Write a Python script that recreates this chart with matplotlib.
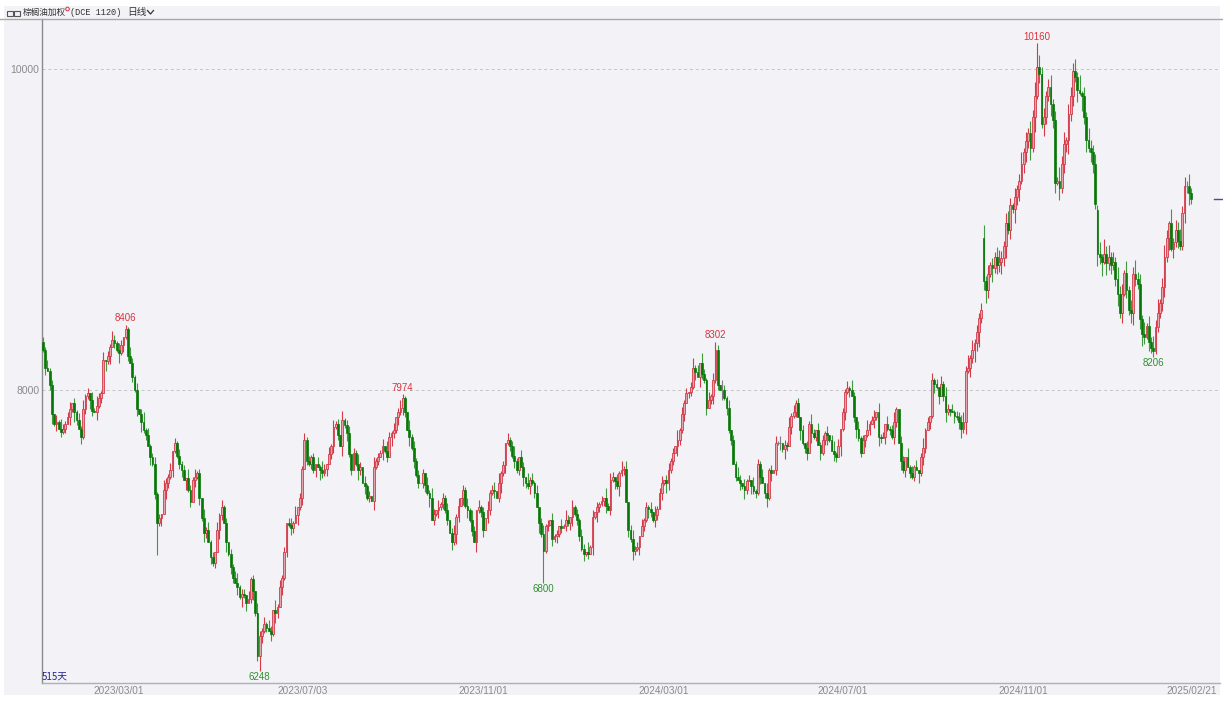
import matplotlib
matplotlib.use("Agg")
import matplotlib.pyplot as plt
import matplotlib.transforms as mtransforms
from matplotlib.patches import Rectangle, Ellipse
from matplotlib.lines import Line2D
import numpy as np

plt.rcParams["font.family"] = ["Liberation Sans", "Noto Sans CJK SC", "DejaVu Sans"]

# daily closes, 2023/01/03 .. 2025/02/21 (515 trading days)
closes = [
    8250, 8140, 8120, 8030, 7850, 7790, 7800, 7760, 7740, 7760,
    7790, 7830, 7880, 7920, 7860, 7810, 7760, 7710, 7880, 7960,
    7980, 7940, 7870, 7860, 7900, 7950, 7980, 8190, 8180, 8210,
    8270, 8310, 8290, 8250, 8230, 8280, 8330, 8380, 8210, 8170,
    8080, 8000, 7880, 7850, 7800, 7750, 7720, 7650, 7580, 7540,
    7350, 7170, 7200, 7230, 7380, 7420, 7460, 7500, 7620, 7670,
    7590, 7540, 7500, 7440, 7450, 7380, 7300, 7440, 7460, 7480,
    7330, 7200, 7110, 7130, 7050, 6960, 6920, 6990, 7130, 7220,
    7270, 7170, 7050, 6980, 6900, 6830, 6800, 6770, 6710, 6730,
    6720, 6670, 6700, 6820, 6750, 6610, 6340, 6470, 6500, 6540,
    6520, 6500, 6480, 6630, 6610, 6650, 6770, 6830, 6990, 7170,
    7160, 7140, 7170, 7220, 7270, 7330, 7510, 7690, 7560, 7540,
    7580, 7500, 7540, 7520, 7500, 7480, 7510, 7540, 7600, 7650,
    7770, 7790, 7720, 7650, 7810, 7780, 7730, 7600, 7500, 7610,
    7540, 7500, 7520, 7420, 7400, 7330, 7340, 7310, 7520, 7560,
    7580, 7610, 7650, 7620, 7580, 7710, 7730, 7750, 7830, 7860,
    7890, 7950, 7860, 7750, 7710, 7640, 7560, 7470, 7420, 7420,
    7480, 7410, 7360, 7330, 7190, 7230, 7250, 7270, 7290, 7330,
    7250, 7190, 7110, 7050, 7100, 7210, 7280, 7330, 7380, 7280,
    7250, 7190, 7120, 7050, 7250, 7270, 7240, 7130, 7200, 7250,
    7360, 7380, 7370, 7330, 7420, 7480, 7530, 7670, 7690, 7650,
    7590, 7560, 7500, 7580, 7520, 7460, 7420, 7400, 7440, 7420,
    7360, 7270, 7170, 7100, 7000, 7150, 7160, 7190, 7070, 7090,
    7100, 7150, 7140, 7150, 7190, 7170, 7210, 7270, 7230, 7190,
    7090, 7010, 6980, 6990, 6980, 7020, 7210, 7240, 7270, 7290,
    7310, 7330, 7280, 7250, 7440, 7460, 7430, 7400, 7480, 7500,
    7510, 7300, 7130, 7070, 7000, 7010, 7020, 7090, 7150, 7190,
    7270, 7260, 7240, 7190, 7220, 7260, 7360, 7420, 7440, 7420,
    7500, 7560, 7610, 7650, 7690, 7750, 7850, 7920, 7980, 7990,
    8020, 8140, 8110, 8080, 8170, 8100, 8060, 7890, 7940, 7960,
    8060, 8250, 8030, 8000, 8000, 7950, 7890, 7750, 7690, 7540,
    7460, 7440, 7420, 7400, 7380, 7430, 7440, 7400, 7370, 7360,
    7540, 7460, 7420, 7360, 7330, 7500, 7480, 7500, 7670, 7670,
    7670, 7630, 7660, 7650, 7770, 7840, 7860, 7920, 7830, 7750,
    7670, 7640, 7610, 7790, 7730, 7710, 7750, 7660, 7610, 7690,
    7730, 7720, 7690, 7620, 7600, 7580, 7650, 7760, 7860, 7990,
    8010, 8000, 7960, 7830, 7760, 7700, 7610, 7690, 7720, 7750,
    7790, 7810, 7830, 7860, 7710, 7700, 7710, 7790, 7760, 7750,
    7710, 7800, 7880, 7670, 7560, 7500, 7580, 7520, 7480, 7460,
    7520, 7500, 7480, 7580, 7640, 7750, 7800, 7840, 8060, 8040,
    8020, 7960, 8040, 7960, 7860, 7880, 7870, 7860, 7840, 7830,
    7800, 7760, 7800, 8120, 8140, 8200, 8250, 8290, 8360, 8450,
    8500, 8680, 8620, 8720, 8780, 8760, 8830, 8780, 8800, 8820,
    8900, 9040, 9000, 9150, 9130, 9200, 9250, 9300, 9410, 9480,
    9550, 9600, 9510, 9700, 9830, 10010, 9970, 9660, 9700, 9830,
    9890, 9780, 9680, 9290, 9300, 9260, 9410, 9530, 9560, 9720,
    9830, 9990, 9950, 9870, 9850, 9830, 9700, 9560, 9510, 9480,
    9410, 9160, 8850, 8830, 8800, 8850, 8790, 8830, 8780, 8800,
    8690, 8600, 8480, 8600, 8730, 8620, 8500, 8480, 8720, 8690,
    8660, 8440, 8350, 8330, 8400, 8300, 8260, 8240, 8390, 8480,
    8540, 8640, 8830, 8950, 9040, 8880, 8920, 9000, 8930, 8900,
    9100, 9270, 9270, 9230, 9190,
]
first_open = 8300
gap_opens = {421: 8950, 472: 9120}

# shadow lengths per candle, in steps of 15 points
upper_wicks = (
    "2131203142 1230213141 2031421302 1421320314 2130241312 "
    "3120421302 1312042131 2041312031 3120213412 2031204213 "
    "1320413120 2314021312 1203142031 3120412302 1420312041 "
    "2130421302 3110413120 2031420312 1302413021 3142031204 "
    "1230412031 2410320413 1302412031 2031420312 1320413021 "
    "2041320314 1302412031 2130412302 3120413120 2413042131 "
    "3120421302 1420312041 2130412031 3021413120 2031420312 "
    "1302413021 3142031204 1230412031 2410320413 1302412031 "
    "2031420312 2342514232 3524132453 2453142352 4253615342 "
    "3524263514 4352614253 3425163524 2534152436 3425142536 "
    "2453162435 34252"
).replace(" ", "")
lower_wicks = (
    "1302413021 2031420312 1420312041 3021413120 2130412031 "
    "2413042131 1230412031 3142031204 2041320314 1302412031 "
    "2031420312 1320413021 2130421302 3120413120 1420312041 "
    "2031204213 1320413120 2314021312 1203142031 3120412302 "
    "2130241312 1312042131 2041312031 3120213412 2131203142 "
    "1230213141 2031421302 1421320314 3120421302 2130421302 "
    "3120413120 2031420312 1302413021 3142031204 1230412031 "
    "2410320413 1302412031 2031420312 1320413021 2041320314 "
    "1302412031 3425142536 2453162435 3524263514 4352614253 "
    "2534152436 3425163524 4253615342 3524132453 2453142312 "
    "2342514232 24352"
).replace(" ", "")
wick_step = 15

marked_highs = {37: 8406, 161: 7974, 301: 8302, 445: 10160}
marked_lows = {97: 6248, 224: 6800, 497: 8206}
extra_lows = {51: 6970}

date_ticks = [34, 116, 197, 278, 358, 439, 514]
date_labels = ["2023/03/01", "2023/07/03", "2023/11/01", "2024/03/01",
               "2024/07/01", "2024/11/01", "2025/02/21"]

# ---- build OHLC ----
c = np.array(closes, dtype=float)
n = len(c)
o = np.r_[first_open, c[:-1]]
for k, v in gap_opens.items():
    o[k] = v
up = np.array([int(ch) for ch in upper_wicks]) * wick_step
dn = np.array([int(ch) for ch in lower_wicks]) * wick_step
hi = np.maximum(o, c) + up
lo = np.minimum(o, c) - dn
for k, v in marked_highs.items():
    hi[k] = v
for k, v in {**marked_lows, **extra_lows}.items():
    lo[k] = v

W, H = 1223, 705
fig = plt.figure(figsize=(W / 100, H / 100), dpi=100)
fig.patch.set_facecolor("white")

def fx(px):
    return px / W

def fy(py):
    return 1 - py / H

BG = "#f3f3f7"
fig.add_artist(Rectangle((fx(4), fy(695)), fx(1220) - fx(4), fy(6) - fy(695),
                         transform=fig.transFigure, facecolor=BG, edgecolor="none", zorder=0))

ax_l, ax_r, ax_t, ax_b = 42, 1220, 19, 683
ax = fig.add_axes([fx(ax_l), fy(ax_b), fx(ax_r) - fx(ax_l), fy(ax_t) - fy(ax_b)])
ax.set_facecolor(BG)

step = 2.234
x0 = 43
ax.set_xlim((ax_l - x0) / step, (ax_r - x0) / step)
ppp = 2000 / 321.0  # price per pixel
ax.set_ylim(8000 - (ax_b - 390) * ppp, 10000 + (69 - ax_t) * ppp)

for s in ["right", "top"]:
    ax.spines[s].set_visible(False)
ax.spines["left"].set_color("#8a8a8a")
ax.spines["left"].set_linewidth(1.0)
ax.spines["bottom"].set_color("#b0b0b0")
ax.spines["bottom"].set_linewidth(1.0)

# title separator
fig.add_artist(Line2D([0, 1], [fy(19), fy(19)], transform=fig.transFigure,
                      color="#a8a8a8", lw=1.0))

# grid
for lvl in [8000, 10000]:
    ax.axhline(lvl, color="#c4c4c4", lw=0.7, ls=(0, (3, 3)), zorder=1)

idx = np.arange(n)
rise = c > o
fall = c < o
flat = c == o
RED, PINK, GREEN, GREY = "#d43a48", "#e8a4ac", "#077807", "#808080"
WICK_GREEN = "#3f9a3f"

wick_colors = np.where(rise, RED, np.where(fall, WICK_GREEN, GREY))
ax.vlines(idx, lo, hi, colors=wick_colors, lw=0.8, zorder=2)

bw = 0.8
ax.bar(idx[rise], (c - o)[rise], bottom=o[rise], width=bw,
       facecolor=PINK, edgecolor=RED, linewidth=0.6, zorder=3)
ax.bar(idx[fall], (o - c)[fall], bottom=c[fall], width=bw,
       facecolor=GREEN, edgecolor=GREEN, linewidth=0.5, zorder=3)
ax.hlines(c[flat], idx[flat] - bw / 2, idx[flat] + bw / 2, colors=GREY, lw=0.9, zorder=3)

# extreme labels
for k, v in marked_highs.items():
    ax.annotate(f"{v}", xy=(k, v), xytext=(0, 1.2), textcoords="offset points",
                ha="center", va="bottom", fontsize=7, color="#d8323e")
for k, v in marked_lows.items():
    ax.annotate(f"{v}", xy=(k, v), xytext=(0, -0.8), textcoords="offset points",
                ha="center", va="top", fontsize=7, color="#2f8f2f")

# axes ticks
ax.set_yticks([8000, 10000])
ax.set_yticklabels(["8000", "10000"])
ax.tick_params(axis="y", length=0, pad=2, labelsize=7.5, labelcolor="#8a8a8a")
ax.set_xticks(date_ticks)
ax.set_xticklabels(date_labels)
ax.tick_params(axis="x", length=0, pad=2.5, labelsize=7.2, labelcolor="#8a8a8a")
ax.set_xticks([date_ticks[-1]], minor=True)
ax.tick_params(axis="x", which="minor", direction="in", length=4.3, width=0.8, color="#909090")

ax.text(0.0, (ax_b - 676.5) / (ax_b - ax_t), "515天", transform=ax.transAxes,
        ha="left", va="center", fontsize=7, color="#23238c",
        family=["Noto Sans CJK SC", "DejaVu Sans"])

# last price marker at the right edge
trans = mtransforms.blended_transform_factory(fig.transFigure, ax.transData)
fig.add_artist(Line2D([fx(1214), fx(1222)], [c[-1], c[-1]], transform=trans,
                      color="#4a4a9c", lw=1.0))

# title bar
for rx in (7, 14):
    fig.add_artist(Rectangle((fx(rx), fy(16)), fx(6), fy(11) - fy(16), transform=fig.transFigure,
                             facecolor="none", edgecolor="#555555", lw=0.8))
fig.text(fx(23), fy(12.5), "棕榈油加权", fontsize=6.2, color="#333333", va="center", ha="left",
         family=["Noto Sans CJK SC", "DejaVu Sans"])
fig.add_artist(Ellipse((fx(67.5), fy(9)), fx(3.6), 3.6 / H, transform=fig.transFigure,
                       facecolor="none", edgecolor="#e0404a", lw=0.8))
fig.text(fx(70), fy(12.5), "(DCE 1120)", fontsize=6.2, color="#333333", va="center", ha="left",
         family=["Liberation Mono", "DejaVu Sans Mono"])
fig.text(fx(127), fy(12.5), "日线", fontsize=7, color="#333333", va="center", ha="left",
         family=["Noto Sans CJK SC", "DejaVu Sans"])
fig.add_artist(Line2D([fx(147.5), fx(150.5), fx(153.5)], [fy(10.5), fy(14), fy(10.5)],
                      transform=fig.transFigure, color="#333333", lw=0.9))

fig.savefig("out.png", dpi=100, facecolor=fig.get_facecolor())
